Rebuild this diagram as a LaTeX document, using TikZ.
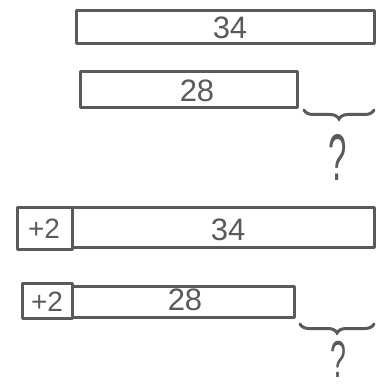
\documentclass[tikz,border=0pt]{standalone}
\usepackage{fontspec}
\setmainfont{Liberation Sans}
\usetikzlibrary{decorations.pathreplacing}
\definecolor{pen}{HTML}{5A5A5A}
\tikzset{
  bar/.style={draw=pen, line width=3pt, line join=round},
  num/.style={text=pen, font=\fontsize{31}{31}\selectfont, inner sep=0pt},
  plus/.style={text=pen, font=\fontsize{28}{28}\selectfont, inner sep=0pt},
  qmark/.style={text=pen, font=\fontsize{66}{66}\selectfont, inner sep=0pt},
  qmarks/.style={text=pen, font=\fontsize{52}{52}\selectfont, inner sep=0pt, anchor=base},
  brc/.style={draw=pen, line width=3pt, line cap=round, decorate, decoration={brace, amplitude=9pt, mirror}}
}
\begin{document}
\begin{tikzpicture}[x=1pt, y=-1pt]
\useasboundingbox (0,0) rectangle (375,390);
% top pair
\draw[bar] (76,11) rectangle (374,44);
\node[num] (t34) at (230,28) {34};
\draw[bar] (80,72) rectangle (297,108);
\node[num] (t28) at (197,91) {28};
\coordinate (tb1) at (304,110);
\coordinate (tb2) at (374,110);
\draw[brc] (tb1) -- (tb2);
\node[qmark] (tq) at (338,157) {\scalebox{0.5}[1]{?}};
% bottom pair
\draw[bar] (17,207) rectangle (72,249);
\draw[bar] (72,207) rectangle (374,247);
\node[plus] (p1) at (44,229) {+2};
\node[num] (b34) at (228,230) {34};
\draw[bar] (22,283) rectangle (72,318);
\draw[bar] (72,286) rectangle (294,317);
\node[plus] (p2) at (47,302) {+2};
\node[num] (b28) at (185,300) {28};
\coordinate (bb1) at (300,324);
\coordinate (bb2) at (374,324);
\draw[brc] (bb1) -- (bb2);
\node[qmarks] (bq) at (338,377) {\scalebox{0.55}[1]{?}};
\end{tikzpicture}
\end{document}
